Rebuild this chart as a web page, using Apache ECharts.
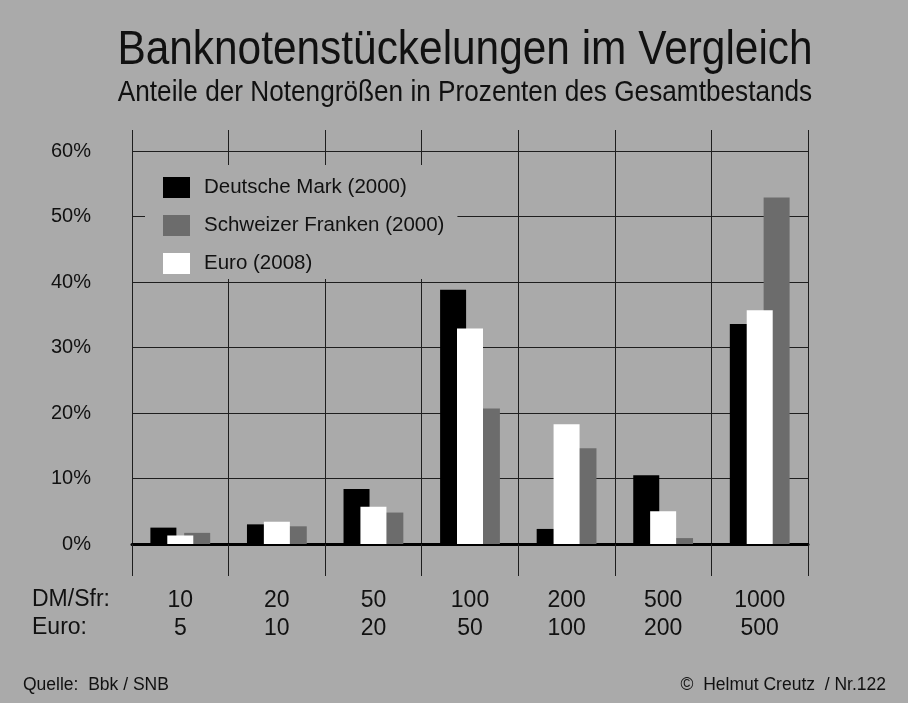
<!DOCTYPE html>
<html>
<head>
<meta charset="utf-8">
<script src="https://cdn.jsdelivr.net/npm/echarts@6/dist/echarts.min.js"></script>
<style>
  html, body { margin: 0; padding: 0; background: #aaaaaa; }
  #chart { width: 908px; height: 703px; }
</style>
</head>
<body>
<div id="chart"></div>
<script>
// Stückelungen: DM/Sfr in der ersten Zeile, Euro darunter
const NOTES_DM = ['10', '20', '50', '100', '200', '500', '1000']
const NOTES_EURO = ['5', '10', '20', '50', '100', '200', '500']

// Anteile in Prozent
const DEUTSCHE_MARK = [2.5, 3.0, 8.4, 38.8, 2.3, 10.5, 33.6]
const EURO = [1.3, 3.4, 5.7, 32.9, 18.3, 5.0, 35.7]
const FRANKEN = [1.7, 2.7, 4.8, 20.7, 14.6, 0.9, 52.9]

const LEGEND_NAMES = ['Deutsche Mark (2000)', 'Schweizer Franken (2000)', 'Euro (2008)']

const FONT = "'Liberation Sans', Arial, sans-serif"
const INK = '#111111'
const LINE = '#1e1e1e'

const chart = echarts.init(document.getElementById('chart'))

// text is slightly stretched vertically in the original
const text = (str, x, y, size, align, stretch = 1) => ({
    type: 'text',
    x, y,
    scaleY: stretch,
    style: {
        text: str,
        font: `${size}px ${FONT}`,
        fill: INK,
        align,
        verticalAlign: 'middle'
    }
})

chart.setOption({
    backgroundColor: '#aaaaaa',
    animation: false,
    textStyle: { fontFamily: FONT, color: INK },
    graphic: [
        text('Banknotenstückelungen im Vergleich', 465, 51, 42.4, 'center', 1.12),
        text('Anteile der Notengrößen in Prozenten des Gesamtbestands', 465, 93, 26.2, 'center', 1.14),
        text('DM/Sfr:', 32, 600, 23, 'left'),
        text('Euro:', 32, 628, 23, 'left'),
        text('Quelle:  Bbk / SNB', 23, 685, 17.5, 'left'),
        text('©  Helmut Creutz  / Nr.122', 886, 685, 17.5, 'right')
    ],
    grid: { left: 132, right: 100, top: 151, bottom: 159 },
    legend: {
        data: LEGEND_NAMES,
        orient: 'vertical',
        left: 145,
        top: 165,
        padding: [12, 13, 5, 18],
        backgroundColor: '#aaaaaa',
        itemWidth: 27,
        itemHeight: 21,
        itemGap: 17,
        icon: 'rect',
        selectedMode: false,
        textStyle: { fontSize: 20.5, color: INK, fontFamily: FONT, padding: [0, 0, 0, 9] }
    },
    xAxis: [
        {
            type: 'category',
            data: NOTES_DM,
            position: 'bottom',
            axisLine: { lineStyle: { color: '#000', width: 3 } },
            axisTick: { show: true, length: 32, lineStyle: { color: LINE, width: 1 } },
            splitLine: { show: true, lineStyle: { color: LINE, width: 1 } },
            axisLabel: {
                margin: 43,
                fontSize: 23,
                lineHeight: 28,
                color: INK,
                fontFamily: FONT,
                formatter: (value, idx) => `${value}\n${NOTES_EURO[idx]}`
            }
        },
        {
            type: 'category',
            data: NOTES_DM,
            position: 'top',
            axisLine: { show: false },
            axisTick: { show: true, length: 21, lineStyle: { color: LINE, width: 1 } },
            axisLabel: { show: false }
        }
    ],
    yAxis: {
        type: 'value',
        min: 0,
        max: 60,
        interval: 10,
        axisLine: { show: true, lineStyle: { color: LINE, width: 1 } },
        axisTick: { show: false },
        splitLine: { lineStyle: { color: LINE, width: 1 } },
        axisLabel: { formatter: '{value}%', fontSize: 20, margin: 41, color: INK, fontFamily: FONT }
    },
    series: [
        { name: LEGEND_NAMES[0], type: 'bar', data: DEUTSCHE_MARK, barWidth: 26, barGap: '-35%', itemStyle: { color: '#000000' }, z: 2 },
        { name: LEGEND_NAMES[2], type: 'bar', data: EURO, barWidth: 26, barGap: '-35%', itemStyle: { color: '#ffffff' }, z: 4 },
        { name: LEGEND_NAMES[1], type: 'bar', data: FRANKEN, barWidth: 26, barGap: '-35%', itemStyle: { color: '#6c6c6c' }, z: 3 }
    ]
})
</script>
</body>
</html>
